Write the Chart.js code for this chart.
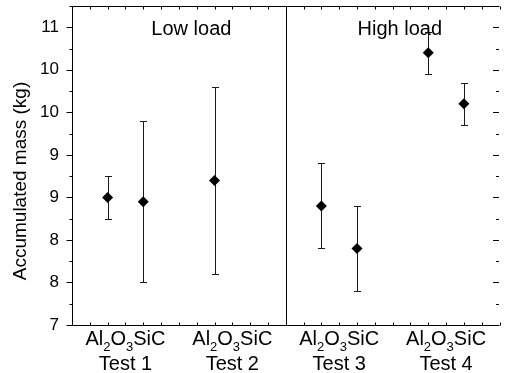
<!DOCTYPE html>
<html>
<head>
<meta charset="utf-8">
<script src="https://cdn.jsdelivr.net/npm/chart.js@4.4.1/dist/chart.umd.min.js"></script>
<style>
  html, body { margin: 0; padding: 0; background: #fff; overflow: hidden; }
  #wrap { width: 505px; height: 373px; }
</style>
</head>
<body>
<div id="wrap"><canvas id="massChart"></canvas></div>
<script>
// data
const tests = ['Test 1', 'Test 2', 'Test 3', 'Test 4'];
const al2o3Mass = [8.5, 8.7, 8.4, 10.2];
const al2o3Err = [0.25, 1.1, 0.5, 0.25];
const sicMass = [8.45, null, 7.9, 9.6];
const sicErr = [0.95, null, 0.5, 0.25];
const yTickValues = [7, 7.5, 8, 8.5, 9, 9.5, 10, 10.5];
const yTickLabels = ['7', '8', '8', '9', '9', '10', '10', '11'];
const loadGroups = ['Low load', 'High load'];

const FONT = '"Liberation Sans", Arial, sans-serif';

// each test takes 3 x-units: Al2O3 at 1, SiC at 2
function toPoints(vals, errs, offset) {
    const pts = [];
    vals.forEach((v, i) => {
        if (v !== null) pts.push({ x: i * 3 + offset, y: v, err: errs[i] });
    });
    return pts;
}

const frameAndLabels = {
    id: 'frameAndLabels',
    beforeDatasetsDraw(chart) {
        const ctx = chart.ctx;
        const xs = chart.scales.x, ys = chart.scales.y;
        ctx.save();
        ctx.strokeStyle = '#1a1a1a';
        ctx.lineWidth = 1;
        chart.data.datasets.forEach(ds => {
            ds.data.forEach(p => {
                const px = Math.round(xs.getPixelForValue(p.x)) + 0.5;
                const top = Math.round(ys.getPixelForValue(p.y + p.err)) + 0.5;
                const bot = Math.round(ys.getPixelForValue(p.y - p.err)) + 0.5;
                ctx.beginPath();
                ctx.moveTo(px, top); ctx.lineTo(px, bot);
                ctx.moveTo(px - 3.5, top); ctx.lineTo(px + 3.5, top);
                ctx.moveTo(px - 3.5, bot); ctx.lineTo(px + 3.5, bot);
                ctx.stroke();
            });
        });
        ctx.restore();
    },
    afterDraw(chart) {
        const ctx = chart.ctx;
        const a = chart.chartArea;
        const xs = chart.scales.x, ys = chart.scales.y;
        const L = a.left + 0.5, T = a.top + 0.5, B = a.bottom + 0.5, R = a.right - 0.5;
        ctx.save();
        ctx.strokeStyle = '#000';
        ctx.lineWidth = 1;
        ctx.beginPath();
        ctx.moveTo(L, T); ctx.lineTo(L, B); ctx.lineTo(a.right, B);
        ctx.moveTo(L, T); ctx.lineTo(a.right, T);
        // divider between low and high load
        const dx = Math.round(xs.getPixelForValue(6)) + 0.5;
        ctx.moveTo(dx, T); ctx.lineTo(dx, B);
        // y ticks, left outward, right inward
        for (let v = 7; v <= 10.75 + 1e-6; v += 0.25) {
            const py = Math.round(ys.getPixelForValue(v)) + 0.5;
            const major = Math.abs(v * 2 - Math.round(v * 2)) < 1e-6;
            const len = major ? 6 : 3;
            ctx.moveTo(L - len, py); ctx.lineTo(L, py);
            ctx.moveTo(R, py); ctx.lineTo(R - len, py);
        }
        // x ticks, inward on top and bottom
        for (let v = 0; v <= 12; v += 0.5) {
            const px = Math.round(xs.getPixelForValue(v)) + 0.5;
            ctx.moveTo(px, T); ctx.lineTo(px, T + 3);
            ctx.moveTo(px, B); ctx.lineTo(px, B - 3);
        }
        ctx.stroke();

        ctx.fillStyle = '#000';
        // group labels
        ctx.font = '20px ' + FONT;
        ctx.textAlign = 'center';
        ctx.textBaseline = 'alphabetic';
        ctx.fillText(loadGroups[0], xs.getPixelForValue(3.35), 35);
        ctx.fillText(loadGroups[1], xs.getPixelForValue(9.2), 35);

        // x category labels with subscripts
        tests.forEach((t, i) => {
            const cx = xs.getPixelForValue(i * 3 + 1.5);
            const parts = [['Al', 0], ['2', 1], ['O', 0], ['3', 1], ['SiC', 0]];
            let w = 0;
            parts.forEach(p => {
                ctx.font = (p[1] ? '13px ' : '20px ') + FONT;
                w += ctx.measureText(p[0]).width;
            });
            let x = cx - w / 2;
            ctx.textAlign = 'left';
            parts.forEach(p => {
                ctx.font = (p[1] ? '13px ' : '20px ') + FONT;
                ctx.fillText(p[0], x, p[1] ? 351 : 345);
                x += ctx.measureText(p[0]).width;
            });
            ctx.textAlign = 'center';
            ctx.font = '20px ' + FONT;
            ctx.fillText(t, cx, 370);
        });

        // y axis title
        ctx.translate(21, 181);
        ctx.rotate(-Math.PI / 2);
        ctx.font = '19px ' + FONT;
        ctx.textAlign = 'center';
        ctx.textBaseline = 'middle';
        ctx.fillText('Accumulated mass (kg)', 0, 0);
        ctx.restore();
    }
};

const config = {
    type: 'scatter',
    data: {
        datasets: [
            {
                label: 'Al2O3',
                data: toPoints(al2o3Mass, al2o3Err, 1),
                pointStyle: 'rectRot',
                pointRadius: 5.5,
                pointHoverRadius: 5.5,
                backgroundColor: '#000',
                borderColor: '#000',
                borderWidth: 0
            },
            {
                label: 'SiC',
                data: toPoints(sicMass, sicErr, 2),
                pointStyle: 'rectRot',
                pointRadius: 5.5,
                pointHoverRadius: 5.5,
                backgroundColor: '#000',
                borderColor: '#000',
                borderWidth: 0
            }
        ]
    },
    options: {
        responsive: true,
        maintainAspectRatio: false,
        animation: false,
        layout: { padding: { top: 6, right: 0, left: 0, bottom: 0 } },
        plugins: {
            legend: { display: false },
            tooltip: { enabled: false }
        },
        scales: {
            x: {
                type: 'linear',
                min: 0,
                max: 12,
                grid: { display: false, drawTicks: false },
                border: { display: false },
                ticks: { display: false },
                afterFit(scale) {
                    scale.height = 48;
                    scale.paddingLeft = 0; scale.paddingRight = 0;
                }
            },
            y: {
                type: 'linear',
                min: 7,
                max: 10.75,
                grid: { display: false, drawTicks: false },
                border: { display: false },
                afterBuildTicks(scale) {
                    scale.ticks = yTickValues.map(v => ({ value: v }));
                },
                ticks: {
                    padding: 13,
                    color: '#000',
                    font: { family: FONT, size: 17 },
                    callback: (val) => yTickLabels[yTickValues.indexOf(val)]
                },
                afterFit(scale) {
                    scale.width = 72;
                    scale.paddingTop = 0; scale.paddingBottom = 0;
                }
            }
        }
    },
    plugins: [frameAndLabels]
};

const ctx = document.getElementById('massChart').getContext('2d');
new Chart(ctx, config);
</script>
</body>
</html>
